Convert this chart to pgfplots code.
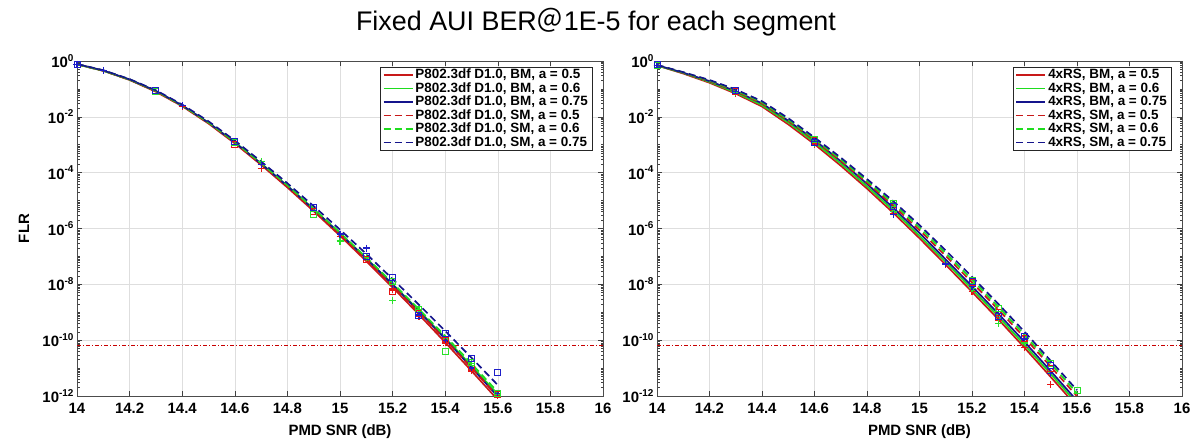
\documentclass[border=0pt]{standalone}
\usepackage{fontspec}
\setmainfont{Liberation Sans}
\newfontfamily\cjk{Noto Sans CJK SC}
\usepackage{pgfplots}
\pgfplotsset{compat=1.18}
\usepackage{pgfplotstable}

\definecolor{cR}{RGB}{200,25,25}
\definecolor{cG}{RGB}{30,220,30}
\definecolor{cB}{RGB}{20,20,140}
\definecolor{mR}{RGB}{230,20,20}
\definecolor{mG}{RGB}{40,225,40}
\definecolor{mB}{RGB}{30,30,200}
\definecolor{tgt}{RGB}{200,0,0}

% y values are log10(FLR)
\pgfplotstableread{
x     rbm     gbm     bbm     rsm     gsm     bsm
14.0  -0.12   -0.12   -0.11   -0.12   -0.12   -0.11
14.1  -0.35   -0.35   -0.34   -0.35   -0.34   -0.33
14.2  -0.68   -0.67   -0.66   -0.67   -0.66   -0.65
14.3  -1.10   -1.08   -1.07   -1.09   -1.07   -1.05
14.4  -1.62   -1.60   -1.59   -1.61   -1.59   -1.56
14.5  -2.24   -2.21   -2.21   -2.22   -2.20   -2.16
14.6  -2.95   -2.91   -2.92   -2.93   -2.90   -2.85
14.7  -3.72   -3.67   -3.68   -3.70   -3.66   -3.60
14.8  -4.53   -4.47   -4.48   -4.50   -4.45   -4.38
14.9  -5.38   -5.31   -5.32   -5.34   -5.29   -5.20
15.0  -6.26   -6.18   -6.19   -6.22   -6.15   -6.04
15.1  -7.17   -7.07   -7.08   -7.12   -7.04   -6.91
15.2  -8.11   -7.99   -8.01   -8.05   -7.95   -7.81
15.3  -9.08   -8.94   -8.97   -9.00   -8.89   -8.73
15.4  -10.08  -9.92   -9.96   -9.98   -9.85   -9.67
15.5  -11.10  -10.92  -10.98  -10.99  -10.84  -10.63
15.6  -12.14  -11.94  -12.02  -12.02  -11.86  -11.61
}\leftcurves

\pgfplotstableread{
x     rbm     gbm     bbm     rsm     gsm     bsm
14.0  -0.16   -0.16   -0.15   -0.15   -0.15   -0.14
14.1  -0.45   -0.43   -0.42   -0.42   -0.41   -0.40
14.2  -0.78   -0.75   -0.72   -0.72   -0.70   -0.68
14.3  -1.17   -1.13   -1.08   -1.08   -1.05   -1.02
14.4  -1.63   -1.58   -1.52   -1.52   -1.48   -1.44
14.5  -2.27   -2.20   -2.14   -2.14   -2.10   -2.05
14.6  -2.98   -2.91   -2.83   -2.84   -2.79   -2.74
14.7  -3.75   -3.67   -3.59   -3.58   -3.52   -3.46
14.8  -4.57   -4.49   -4.40   -4.36   -4.30   -4.23
14.9  -5.44   -5.35   -5.26   -5.18   -5.10   -5.02
15.0  -6.35   -6.26   -6.16   -6.06   -5.97   -5.88
15.1  -7.30   -7.20   -7.11   -6.98   -6.89   -6.79
15.2  -8.27   -8.17   -8.07   -7.93   -7.83   -7.73
15.3  -9.25   -9.15   -9.05   -8.90   -8.80   -8.70
15.4  -10.27  -10.17  -10.06  -9.91   -9.81   -9.70
15.5  -11.32  -11.21  -11.11  -10.95  -10.84  -10.74
15.6  -12.38  -12.27  -12.17  -12.01  -11.90  -11.79
}\rightcurves

\newcommand\ylab[1]{10\raisebox{6.5bp}{\fontsize{10}{12}\selectfont #1}}

% minor ticks of the log scale, in log10 units
\def\minorlist{}
\foreach \n in {-12,...,-1}{%
  \foreach \k in {0.301,0.477,0.602,0.699,0.778,0.845,0.903,0.954}{%
    \pgfmathsetmacro\mt{\n+\k}\xdef\minorlist{\minorlist\mt,}}}
\xdef\minorlist{\minorlist -11,-9,-7,-5,-3,-1}

\pgfplotsset{
  flr/.style={
    scale only axis, width=526bp, height=335bp,
    xmin=14, xmax=16, ymin=-12, ymax=0,
    xtick={14,14.2,14.4,14.6,14.8,15,15.2,15.4,15.6,15.8,16},
    xticklabels={14,14.2,14.4,14.6,14.8,15,15.2,15.4,15.6,15.8,16},
    ytick={-12,-10,-8,-6,-4,-2,0},
    yticklabels={\ylab{-12},\ylab{-10},\ylab{-8},\ylab{-6},\ylab{-4},\ylab{-2},\ylab{0}},
    minor ytick/.expanded={\minorlist},
    tick align=inside,
    major tick length=5bp, minor tick length=2.5bp,
    tick style={black!75, line width=0.5bp},
    axis line style={black!70, line width=0.6bp},
    grid=major, major grid style={black!13, line width=0.5bp},
    ticklabel style={font=\fontsize{15}{18}\selectfont\bfseries},
    xticklabel style={yshift=-4bp},
    label style={font=\fontsize{15}{18}\selectfont\bfseries},
    xlabel={PMD SNR (dB)},
    xlabel style={at={(axis description cs:0.5,-0.1075)}, anchor=center},
    legend cell align=left,
    legend style={at={(axis description cs:1,1)}, anchor=north east,
      xshift=-11bp, yshift=-6bp, draw=black!85, line width=0.5bp, fill=white,
      inner xsep=2bp, inner ysep=1bp, row sep=0pt,
      font=\fontsize{13.5}{14}\selectfont\bfseries,
      nodes={inner xsep=2bp, inner ysep=0.5bp, text height=9.8bp, text depth=2.7bp}},
    legend image code/.code={\draw[##1, line width=1.7bp] (0bp,0bp) -- (29bp,0bp);},
  },
}

\begin{document}
\begin{tikzpicture}
\useasboundingbox (0bp,0bp) rectangle (1192bp,443bp);

\node[font=\fontsize{27}{32}\selectfont] at (596bp,421bp) {Fixed AUI BER{\cjk ＠}1E-5 for each segment};

\begin{axis}[flr, at={(77bp,47bp)}, anchor=south west,
  ylabel={FLR}, ylabel style={at={(axis description cs:-0.1008,0.5)}, anchor=center}]
  \addplot[forget plot, color=tgt, line width=1bp, dash pattern=on 4bp off 2bp on 1bp off 2bp] coordinates {(14,-10.2) (16,-10.2)};
  \addplot[forget plot, only marks, mark=+, mark size=3.5bp, color=mR, mark options={line width=1.2bp}] coordinates {(14,-0.12) (14.1,-0.35) (14.4,-1.63) (14.7,-3.85) (15,-6.3) (15.1,-7.1) (15.2,-8.2) (15.3,-9.15) (15.4,-10.1) (15.5,-11.1) (15.6,-11.98)};
  \addplot[forget plot, only marks, mark=+, mark size=3.5bp, color=mG, mark options={line width=1.2bp}] coordinates {(14,-0.12) (14.1,-0.35) (14.4,-1.6) (14.7,-3.6) (15,-6.45) (15.1,-7.05) (15.2,-8.57) (15.3,-8.9) (15.4,-9.95) (15.5,-10.85) (15.6,-11.95)};
  \addplot[forget plot, only marks, mark=+, mark size=3.5bp, color=mB, mark options={line width=1.2bp}] coordinates {(14,-0.12) (14.1,-0.34) (14.4,-1.6) (14.7,-3.7) (15,-6.2) (15.1,-6.7) (15.2,-8.0) (15.3,-9.1) (15.4,-10.0) (15.5,-11.0) (15.6,-11.9)};
  \addplot[forget plot, only marks, mark=square, mark size=3bp, color=mR, mark options={line width=0.9bp}] coordinates {(14,-0.12) (14.3,-1.1) (14.6,-3.0) (14.9,-5.4) (15.1,-7.1) (15.2,-8.27) (15.3,-9.05) (15.4,-10.0) (15.5,-11.0) (15.6,-11.95)};
  \addplot[forget plot, only marks, mark=square, mark size=3bp, color=mG, mark options={line width=0.9bp}] coordinates {(14,-0.12) (14.3,-1.08) (14.6,-2.9) (14.9,-5.5) (15.1,-7.0) (15.2,-7.9) (15.3,-8.9) (15.4,-10.4) (15.5,-10.8) (15.6,-11.9)};
  \addplot[forget plot, only marks, mark=square, mark size=3bp, color=mB, mark options={line width=0.9bp}] coordinates {(14,-0.11) (14.3,-1.05) (14.6,-2.88) (14.9,-5.25) (15.1,-7.0) (15.2,-7.76) (15.3,-9.1) (15.4,-9.76) (15.5,-10.67) (15.6,-11.15)};
  \addplot[color=cR, line width=1.7bp] table[x=x, y=rbm] {\leftcurves};
  \addlegendentry{P802.3df D1.0, BM, a = 0.5}
  \addplot[color=cG, line width=1.7bp] table[x=x, y=gbm] {\leftcurves};
  \addlegendentry{P802.3df D1.0, BM, a = 0.6}
  \addplot[color=cB, line width=1.7bp] table[x=x, y=bbm] {\leftcurves};
  \addlegendentry{P802.3df D1.0, BM, a = 0.75}
  \addplot[color=cR, line width=1.7bp, dash pattern=on 7bp off 4bp] table[x=x, y=rsm] {\leftcurves};
  \addlegendentry{P802.3df D1.0, SM, a = 0.5}
  \addplot[color=cG, line width=1.7bp, dash pattern=on 7bp off 4bp] table[x=x, y=gsm] {\leftcurves};
  \addlegendentry{P802.3df D1.0, SM, a = 0.6}
  \addplot[color=cB, line width=1.7bp, dash pattern=on 7bp off 4bp] table[x=x, y=bsm] {\leftcurves};
  \addlegendentry{P802.3df D1.0, SM, a = 0.75}
\end{axis}

\begin{axis}[flr, at={(657bp,47bp)}, anchor=south west, width=525bp]
  \addplot[forget plot, color=tgt, line width=1bp, dash pattern=on 4bp off 2bp on 1bp off 2bp] coordinates {(14,-10.2) (16,-10.2)};
  \addplot[forget plot, only marks, mark=+, mark size=3.5bp, color=mR, mark options={line width=1.2bp}] coordinates {(14,-0.16) (14.3,-1.17) (14.6,-3.0) (14.9,-5.45) (15.1,-7.3) (15.2,-8.25) (15.3,-9.3) (15.4,-10.25) (15.5,-11.6)};
  \addplot[forget plot, only marks, mark=+, mark size=3.5bp, color=mG, mark options={line width=1.2bp}] coordinates {(14,-0.16) (14.3,-1.13) (14.6,-2.95) (14.9,-5.4) (15.1,-7.25) (15.2,-8.15) (15.3,-9.4) (15.4,-10.1) (15.5,-11.2)};
  \addplot[forget plot, only marks, mark=+, mark size=3.5bp, color=mB, mark options={line width=1.2bp}] coordinates {(14,-0.15) (14.3,-1.1) (14.6,-2.9) (14.9,-5.5) (15.1,-7.27) (15.2,-8.06) (15.3,-9.05) (15.4,-9.95) (15.5,-11.2)};
  \addplot[forget plot, only marks, mark=square, mark size=3bp, color=mR, mark options={line width=0.9bp}] coordinates {(14,-0.15) (14.3,-1.1) (14.6,-2.85) (14.9,-5.2) (15.2,-7.95) (15.3,-9.0) (15.4,-9.95) (15.5,-11.0)};
  \addplot[forget plot, only marks, mark=square, mark size=3bp, color=mG, mark options={line width=0.9bp}] coordinates {(14,-0.15) (14.3,-1.07) (14.6,-2.8) (14.9,-5.1) (15.2,-7.85) (15.3,-8.85) (15.4,-9.85) (15.5,-10.85) (15.6,-11.8)};
  \addplot[forget plot, only marks, mark=square, mark size=3bp, color=mB, mark options={line width=0.9bp}] coordinates {(14,-0.14) (14.3,-1.05) (14.6,-2.9) (14.9,-5.2) (15.2,-7.88) (15.3,-9.15) (15.4,-9.87) (15.5,-10.9)};
  \addplot[color=cR, line width=1.7bp] table[x=x, y=rbm] {\rightcurves};
  \addlegendentry{4xRS, BM, a = 0.5}
  \addplot[color=cG, line width=1.7bp] table[x=x, y=gbm] {\rightcurves};
  \addlegendentry{4xRS, BM, a = 0.6}
  \addplot[color=cB, line width=1.7bp] table[x=x, y=bbm] {\rightcurves};
  \addlegendentry{4xRS, BM, a = 0.75}
  \addplot[color=cR, line width=1.7bp, dash pattern=on 7bp off 4bp] table[x=x, y=rsm] {\rightcurves};
  \addlegendentry{4xRS, SM, a = 0.5}
  \addplot[color=cG, line width=1.7bp, dash pattern=on 7bp off 4bp] table[x=x, y=gsm] {\rightcurves};
  \addlegendentry{4xRS, SM, a = 0.6}
  \addplot[color=cB, line width=1.7bp, dash pattern=on 7bp off 4bp] table[x=x, y=bsm] {\rightcurves};
  \addlegendentry{4xRS, SM, a = 0.75}
\end{axis}
\end{tikzpicture}
\end{document}
